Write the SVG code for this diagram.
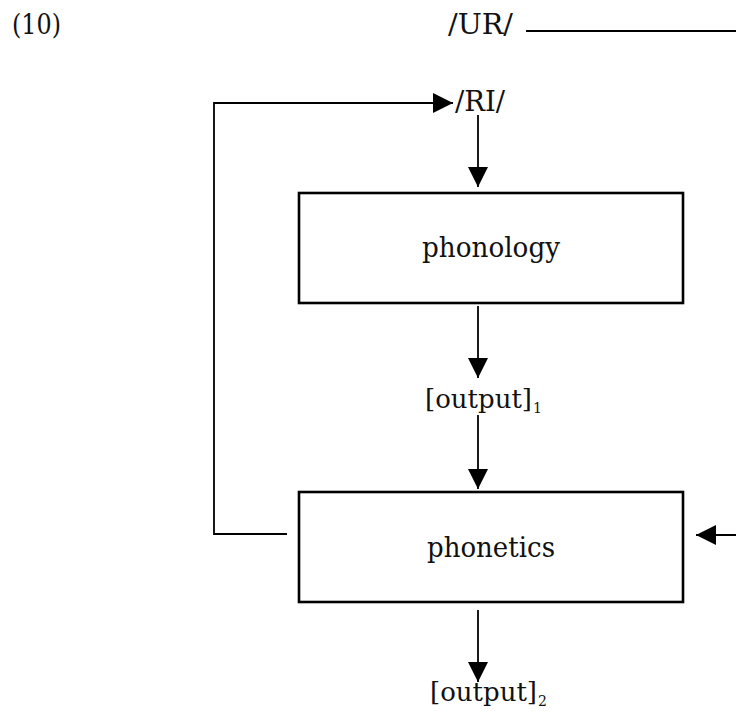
<svg xmlns="http://www.w3.org/2000/svg" width="736" height="711" viewBox="0 0 736 711">
<style>
  text { font-family: "DejaVu Serif", "Liberation Serif", serif; font-size: 28px; fill: #111; }
  .out { font-size: 26px; }
  .sub { font-size: 14px; }
  .box { fill: #fff; stroke: #000; stroke-width: 2.6; }
  .conn { fill: none; stroke: #000; stroke-width: 1.8; }
</style>
<defs>
  <marker id="arrow" markerUnits="userSpaceOnUse" markerWidth="20" markerHeight="20" refX="20" refY="10" orient="auto" viewBox="0 0 20 20">
    <path d="M0,0 L20,10 L0,20 Z" fill="#000"/>
  </marker>
</defs>
<rect width="736" height="711" fill="#fff"/>

<g id="label-10"><text x="12" y="34" textLength="49" lengthAdjust="spacingAndGlyphs">(10)</text></g>
<g id="ur"><text x="448" y="34" textLength="65" lengthAdjust="spacingAndGlyphs">/UR/</text></g>
<g id="ri"><text x="455" y="111" textLength="50" lengthAdjust="spacingAndGlyphs">/RI/</text></g>
<g id="phonology">
  <rect class="box" x="299" y="193" width="384" height="110"/>
  <text x="422" y="257" textLength="138" lengthAdjust="spacingAndGlyphs">phonology</text>
</g>
<g id="output1">
  <text class="out" x="425" y="408">[output]<tspan class="sub" dx="1" dy="5">1</tspan></text>
</g>
<g id="phonetics">
  <rect class="box" x="299" y="492" width="384" height="110"/>
  <text x="427" y="557" textLength="128" lengthAdjust="spacingAndGlyphs">phonetics</text>
</g>
<g id="output2">
  <text class="out" x="430" y="701">[output]<tspan class="sub" dx="1" dy="5">2</tspan></text>
</g>

<g id="connectors">
  <line class="conn" x1="526" y1="31" x2="736" y2="31" stroke-width="2"/>
  <path class="conn" d="M287,534 H214 V103 H453" marker-end="url(#arrow)"/>
  <line class="conn" x1="478" y1="115" x2="478" y2="187" marker-end="url(#arrow)"/>
  <line class="conn" x1="478" y1="306" x2="478" y2="378" marker-end="url(#arrow)"/>
  <line class="conn" x1="478" y1="415" x2="478" y2="489" marker-end="url(#arrow)"/>
  <line class="conn" x1="478" y1="610" x2="478" y2="682" marker-end="url(#arrow)"/>
  <line class="conn" x1="736" y1="535" x2="696" y2="535" marker-end="url(#arrow)"/>
</g>
</svg>
